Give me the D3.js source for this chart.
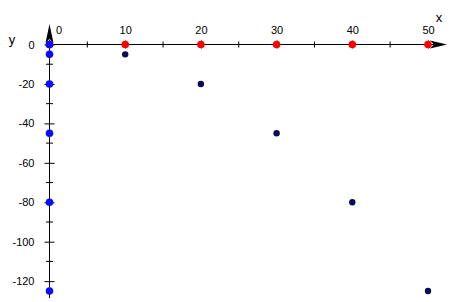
<!DOCTYPE html>
<html lang="en">
<head>
<meta charset="UTF-8">
<script src="https://cdn.jsdelivr.net/npm/d3@7"></script>
<style>
  body { margin:0; background:#fff; }
  svg text { font: 11px "Liberation Sans", Arial, sans-serif; fill:#000; }
</style>
</head>
<body>
<script>
// points
let xValues = [0, 10, 20, 30, 40, 50];
let yValues = [0, -5, -20, -45, -80, -125];
let xTicks = [0, 10, 20, 30, 40, 50];
let yTicks = [0, -20, -40, -60, -80, -100, -120];

let width = 454, height = 302;
let svg = d3.select("body").append("svg")
  .attr("width", width).attr("height", height);

let x = d3.scaleLinear().domain([0, 50]).range([49.5, 428]);
let y = d3.scaleLinear().domain([0, -125]).range([44.5, 291]);

// x axis (labels above)
let xAxis = svg.append("g")
  .attr("transform", "translate(0," + y(0) + ")")
  .call(d3.axisTop(x).tickValues(xTicks).tickSizeOuter(0).tickPadding(3)
    .tickFormat(d => String(d)));
xAxis.select(".domain").remove();
xAxis.selectAll(".tick line").attr("y1", 4).attr("y2", -4).attr("stroke", "#000");
xAxis.selectAll(".tick text").attr("dy", "-0.15em")
  .attr("dx", d => d === 0 ? 9 : 0).style("font-size", "11px").attr("font-family", null);

// minor x ticks
svg.append("g").selectAll("line")
  .data(d3.range(5, 50, 10)).join("line")
  .attr("x1", d => x(d)).attr("x2", d => x(d))
  .attr("y1", y(0) - 3).attr("y2", y(0) + 3).attr("stroke", "#000");

svg.append("line")
  .attr("x1", x(0)).attr("x2", 440).attr("y1", y(0)).attr("y2", y(0))
  .attr("stroke", "#000");
svg.append("path")
  .attr("d", "M" + 447 + "," + y(0) + " L" + 430 + "," + (y(0) - 4) + " L" + 434 + "," + y(0) + " L" + 430 + "," + (y(0) + 4) + "Z")
  .attr("fill", "#000");

// y axis (labels left)
let yAxis = svg.append("g")
  .attr("transform", "translate(" + x(0) + ",0)")
  .call(d3.axisLeft(y).tickValues(yTicks).tickSizeOuter(0).tickPadding(9)
    .tickFormat(d => String(d)));
yAxis.select(".domain").remove();
yAxis.selectAll(".tick line").attr("x1", 5).attr("x2", -5).attr("stroke", "#000");
yAxis.selectAll(".tick text").style("font-size", "11px").attr("font-family", null);

svg.append("g").selectAll("line")
  .data(d3.range(-10, -125, -20)).join("line")
  .attr("x1", x(0) - 3.5).attr("x2", x(0) + 3.5)
  .attr("y1", d => y(d)).attr("y2", d => y(d)).attr("stroke", "#000");

svg.append("line")
  .attr("x1", x(0)).attr("x2", x(0)).attr("y1", 40).attr("y2", 298)
  .attr("stroke", "#000");
svg.append("path")
  .attr("d", "M" + x(0) + ",24 L" + (x(0) - 4) + ",43 L" + x(0) + ",39 L" + (x(0) + 4) + ",43Z")
  .attr("fill", "#000");

svg.append("text").attr("x", 12).attr("y", 44).attr("text-anchor", "middle")
  .style("font-size", "13px").text("y");
svg.append("text").attr("x", 439).attr("y", 22).attr("text-anchor", "middle")
  .style("font-size", "13px").text("x");

// points
let pairs = d3.zip(xValues, yValues);
svg.append("g").selectAll("circle")
  .data(pairs).join("circle")
  .attr("cx", d => x(d[0])).attr("cy", d => y(d[1])).attr("r", 3.2)
  .attr("fill", "#0a0a55");
svg.append("g").selectAll("circle")
  .data(xValues).join("circle")
  .attr("cx", d => x(d)).attr("cy", y(0)).attr("r", 3.8)
  .attr("fill", "#ff0000");
svg.append("g").selectAll("circle")
  .data(yValues).join("circle")
  .attr("cx", x(0)).attr("cy", d => y(d)).attr("r", 3.8)
  .attr("fill", "#0a0aff");
</script>
</body>
</html>
